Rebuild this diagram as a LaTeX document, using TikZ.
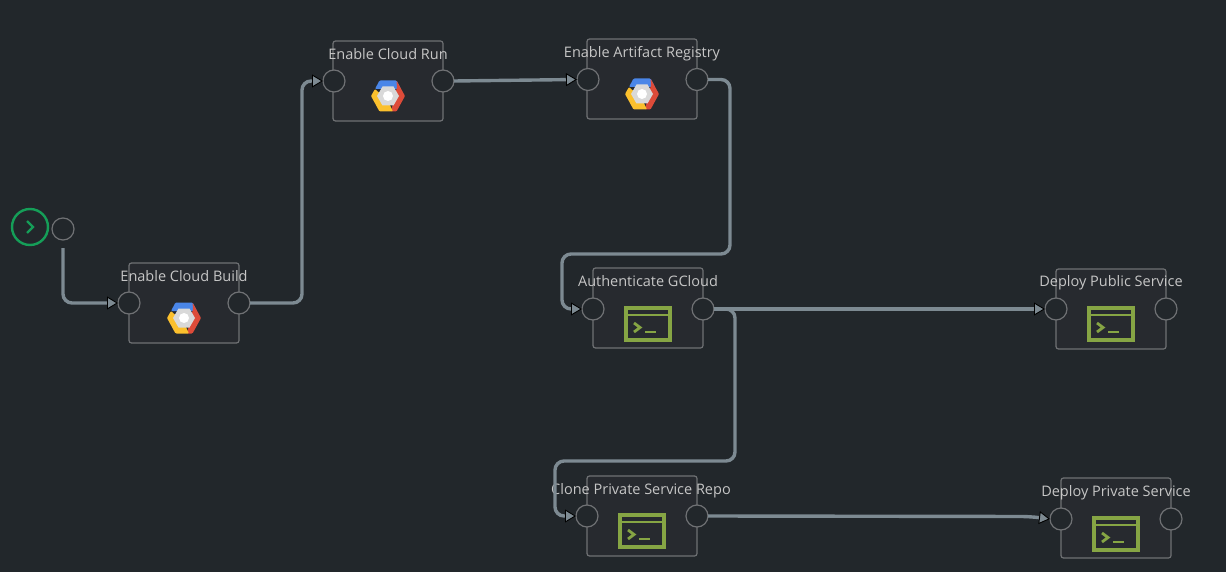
\documentclass[tikz,border=0pt]{standalone}
\usepackage{fontspec}
\setmainfont{Open Sans}
\usetikzlibrary{arrows.meta}
\definecolor{bgc}{HTML}{22272B}
\definecolor{boxc}{HTML}{272A2F}
\definecolor{edgec}{HTML}{6F7174}
\definecolor{linkc}{HTML}{7D8A92}
\definecolor{textc}{HTML}{C6C6C6}
\definecolor{startc}{HTML}{159E58}
\definecolor{termc}{HTML}{86A544}
\definecolor{gblue}{HTML}{4A86E8}
\definecolor{gred}{HTML}{DD4B39}
\definecolor{gyellow}{HTML}{FBC02D}
\tikzset{
  x=1pt,y=-1pt,
  taskbox/.style={draw=edgec,fill=boxc,line width=1.2pt,rounded corners=2.5pt,minimum width=110pt,minimum height=80pt,inner sep=0pt,outer sep=0pt},
  port/.style={circle,draw=edgec,fill=bgc,line width=1.2pt,minimum size=22pt,inner sep=0pt,outer sep=0pt},
  tasklabel/.style={text=textc,font=\fontsize{14.5}{16}\selectfont,inner sep=0pt,text height=10.5pt,text depth=3pt,yshift=-2pt},
  link/.style={draw=linkc,line width=3.4pt,rounded corners=9pt,-{Triangle[length=11pt,width=13pt,line width=0.9pt,fill=linkc,color=black]}},
  pics/gcp/.style={code={
    \fill[gblue,rounded corners=1pt] (-13,-7)--(-8.5,-15.5)--(8.5,-15.5)--(13,-7)--cycle;
    \fill[gred,rounded corners=1pt] (8.5,-15.5)--(17,0)--(8.5,15.5)--(3,15.5)--(9,-9)--cycle;
    \fill[gyellow,rounded corners=1pt] (-13,-7)--(-17,0)--(-8.5,15.5)--(5,15.5)--(0,5)--cycle;
    \fill[gray!30!white] (-11,0)--(-5.5,-9.5)--(5.5,-9.5)--(11,0)--(5.5,9.5)--(-5.5,9.5)--cycle;
    \fill[white] (0,0) circle[radius=5];
  }},
  pics/term/.style={code={
    \draw[termc,line width=3.2pt] (-22,-16) rectangle (22,16);
    \draw[termc,line width=2.4pt] (-22,-9) -- (22,-9);
    \draw[termc,line width=2.8pt] (-14,-1) -- (-8,3.5) -- (-14,8);
    \draw[termc,line width=2.8pt] (-3,8) -- (8,8);
  }}
}
\begin{document}
\begin{tikzpicture}
\useasboundingbox[fill=bgc] (0,0) rectangle (1226,572);
% tasks
\node[taskbox] (build) at (184,303) {};
\node[taskbox] (run) at (388,81) {};
\node[taskbox] (artifact) at (642,79) {};
\node[taskbox] (auth) at (648,308) {};
\node[taskbox] (public) at (1111,309) {};
\node[taskbox] (clone) at (642,516) {};
\node[taskbox] (private) at (1116,518) {};
% icons
\pic at (184,318) {gcp};
\pic at (388,96) {gcp};
\pic at (642,94) {gcp};
\pic at (648,324) {term};
\pic at (1111,324) {term};
\pic at (642,531) {term};
\pic at (1116,534) {term};
% ports
\node[circle,draw=startc,line width=2.4pt,minimum size=36pt,inner sep=0pt] (start) at (30,227) {};
\draw[startc,line width=2.2pt] (start.center)++(-3,-6) -- ++(6,6) -- ++(-6,6);
\node[port] (starto) at (63,229) {};
\coordinate (startgap) at (63,248);
\node[port] (buildi) at (129,303) {};
\node[port] (buildo) at (239,303) {};
\node[port] (runi) at (334,81) {};
\node[port] (runo) at (443,81) {};
\node[port] (artifacti) at (588,79.5) {};
\node[port] (artifacto) at (697,79.5) {};
\node[port] (authi) at (593,309) {};
\node[port] (autho) at (703,309) {};
\node[port] (publici) at (1056,309) {};
\node[port] (publico) at (1166,309) {};
\node[port] (clonei) at (587,516) {};
\node[port] (cloneo) at (697,516) {};
\node[port] (privatei) at (1061,519) {};
\node[port] (privateo) at (1171,519) {};
% labels
\node[tasklabel] (l1) at (184,276) {Enable Cloud Build};
\node[tasklabel] (l2) at (388,54) {Enable Cloud Run};
\node[tasklabel] (l3) at (642,52) {Enable Artifact Registry};
\node[tasklabel] (l4) at (648,281) {Authenticate GCloud};
\node[tasklabel] (l5) at (1111,281) {Deploy Public Service};
\node[tasklabel] (l6) at (641,489) {Clone Private Service Repo};
\node[tasklabel] (l7) at (1116,491) {Deploy Private Service};
% connectors
\draw[link] (startgap) |- (buildi.west);
\draw[link] (buildo.east) -- (302,303) -- (302,81) -- (runi.west);
\draw[link] (runo.east) -- (artifacti.west);
\draw[link] (artifacto.east) -- (730,79.5) -- (730,254) -- (562,254) -- (562,309) -- (authi.west);
\draw[link] (autho.east) -- (publici.west);
\draw[link] (autho.east) -- (735,309) -- (735,461) -- (555,461) -- (555,516) -- (clonei.west);
\draw[link] (cloneo.east) -- (1030,516.5) -- (privatei.west);
\end{tikzpicture}
\end{document}
